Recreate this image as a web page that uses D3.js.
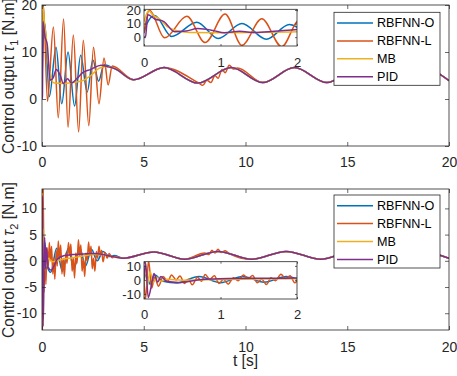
<!DOCTYPE html>
<html>
<head>
<meta charset="utf-8">
<script src="https://cdn.jsdelivr.net/npm/d3@7"></script>
<style>
  body { margin: 0; background: #fff; }
  svg { display: block; font-family: "Liberation Sans", Arial, Helvetica, sans-serif; }
  .line { fill: none; stroke-width: 1.5; stroke-linejoin: round; }
</style>
</head>
<body>
<svg id="chart" width="457" height="376"></svg>
<script>
// series names and x ticks
var names = ["RBFNN-O", "RBFNN-L", "MB", "PID"];
var xTicks = [0, 5, 10, 15, 20];
var insetXTicks = [0, 1, 2];
var tau1Ticks = [-10, 0, 10, 20];
var tau2Ticks = [-10, -5, 0, 5, 10];
var insetTau1Ticks = [0, 10, 20];
var insetTau2Ticks = [-10, 0, 10];

// tau_1: steady part shared by all controllers [t, value]
var tau1Steady = [[3.6, 6.4], [4.5, 4.1], [6.0, 6.7], [7.65, 3.4], [9.3, 6.7], [10.85, 3.5],
  [12.4, 6.7], [14.0, 3.5], [15.55, 6.7], [17.1, 3.5], [18.7, 6.7], [20, 3.9]];

// tau_1: start-up transients
var tau1RbfnnO = [[0, 3], [0.03, 9], [0.14, 16], [0.36, 0.5], [0.69, 11], [0.97, -1], [1.28, 10],
  [1.6, -1.5], [1.9, 9.3], [2.22, 1.5], [2.5, 8.3], [2.78, 3.8], [3.05, 7.3]];
var tau1RbfnnL = [[0, 3], [0.07, 20], [0.27, -0.5], [0.56, 15.3], [0.8, -4], [1.06, 17], [1.28, -6],
  [1.54, 13.6], [1.8, -7], [2.03, 12.5], [2.3, -5.7], [2.53, 11], [2.8, -1], [3.05, 8.7],
  [3.25, 3], [3.45, 7]];
var tau1Mb = [[0, 11.5], [0.06, 19.5], [0.12, 16], [0.2, 13.5], [0.3, 8], [0.45, 4.5], [0.6, 3.4],
  [1.0, 3.3], [1.5, 3.5], [2.0, 3.9], [2.4, 5.0], [2.8, 6.5], [3.15, 6.9]];
var tau1Pid = [[0, 0], [0.02, 0.5], [0.05, 16.5], [0.14, 13.4], [0.26, 11.5], [0.4, 4], [0.55, 4.5],
  [0.7, 6.3], [0.9, 5], [1.05, 3.3], [1.25, 4.3], [1.45, 3.4], [1.7, 4.3], [2.0, 5.6],
  [2.4, 6.3], [2.9, 7.2], [3.2, 6.9]];
// tau_1: late wiggle of RBFNN-L
var tau1RbfnnLWiggle = [[7.7, 3.4], [7.9, 2.9], [8.1, 4.0], [8.3, 3.5], [8.5, 5.0], [8.65, 4.4],
  [8.85, 6.3], [9.0, 5.6], [9.2, 7.2], [9.4, 6.4], [9.6, 6.6]];

// tau_2: steady part shared by all controllers
var tau2Steady = [[4.0, 0.5], [5.5, 1.7], [7.0, 0.3], [8.65, 1.8], [10.3, 0.3], [12.0, 1.8],
  [13.7, 0.3], [15.3, 1.8], [17.0, 0.3], [18.6, 1.8], [20, 0.5]];

// tau_2: start-up transients
var tau2RbfnnO = [[0, 0], [0.03, 4], [0.08, -3], [0.14, 3.5], [0.25, -1], [0.43, -2.2], [0.72, 2.4],
  [1.0, -2.0], [1.29, 2.4], [1.57, -1.6], [1.86, 2.4], [2.14, -1.0], [2.43, 2.2], [2.71, 0],
  [3.0, 1.8], [3.3, 0.8], [3.55, 1.0]];
var tau2RbfnnL = [[0, 0], [0.02, -13.5], [0.06, 13.8], [0.1, -6], [0.14, 2], [0.19, -4.5], [0.25, 2.5],
  [0.31, -1], [0.36, 3.5], [0.42, 0], [0.47, 2.8], [0.53, -2.5], [0.58, 0.5], [0.63, -3.5],
  [0.7, 2], [0.75, -1], [0.8, 3.8], [0.86, 0.5], [0.92, 3], [0.98, -2.5], [1.04, 0.5],
  [1.1, -3], [1.17, 1.5], [1.23, -0.5], [1.3, 3.5], [1.36, 1], [1.42, 3.2], [1.48, -2],
  [1.54, 0.5], [1.6, -3.3], [1.66, 1.5], [1.72, -0.5], [1.79, 4], [1.85, 1], [1.91, 3],
  [1.97, -2], [2.03, 0.3], [2.1, -3], [2.16, 1.5], [2.22, 0], [2.29, 3.6], [2.35, 1],
  [2.41, 2.8], [2.47, -1.5], [2.53, 0.5], [2.6, -2], [2.67, 1.8], [2.73, 0.5], [2.8, 2.8],
  [2.87, 1], [2.93, 2], [3.0, -0.2], [3.1, 1.6], [3.2, 0.5], [3.3, 1.4], [3.45, 0.6], [3.6, 0.8]];
var tau2Mb = [[0, 12], [0.015, 13.5], [0.04, -5], [0.08, 6], [0.12, -2], [0.17, 2], [0.22, -1],
  [0.3, 0.5], [0.5, -0.2], [1.0, 0.3], [1.5, 0.6], [2.0, 0.9], [2.5, 1.2], [3.0, 1.2], [3.5, 0.8]];
var tau2Pid = [[0, 0], [0.02, 12.4], [0.055, -12.5], [0.1, -3], [0.13, 4.5], [0.18, -1.5], [0.22, 2.5],
  [0.3, -1.2], [0.45, -1.8], [0.75, 0.3], [1.1, 1.0], [1.5, 1.2], [2.0, 1.3], [2.5, 1.4],
  [3.0, 1.2], [3.5, 0.8]];
var tau2RbfnnLWiggle = [[8.0, 1.5], [8.2, 1.2], [8.35, 2.0], [8.5, 1.5], [8.65, 2.2], [8.8, 1.6],
  [9.0, 1.9], [9.2, 1.4]];

var colors = ["#0072BD", "#D95319", "#EDB120", "#7E2F8E"];
var ink = "#262626";
var FONT = "'Liberation Sans', Arial, Helvetica, sans-serif";

// join a transient with the shared steady part (and optional extra points)
function joinSteady(transient, steady, extra) {
  var last = transient[transient.length - 1][0];
  var pts = steady.filter(function(d) { return d[0] > last + 0.2; });
  if (extra) {
    var a = extra[0][0] - 0.2, b = extra[extra.length - 1][0] + 0.2;
    pts = pts.filter(function(d) { return d[0] < a || d[0] > b; }).concat(extra);
  }
  return transient.concat(pts).sort(function(p, q) { return p[0] - q[0]; });
}

var tau1Series = [
  joinSteady(tau1RbfnnO, tau1Steady),
  joinSteady(tau1RbfnnL, tau1Steady, tau1RbfnnLWiggle),
  joinSteady(tau1Mb, tau1Steady),
  joinSteady(tau1Pid, tau1Steady)
];
var tau2Series = [
  joinSteady(tau2RbfnnO, tau2Steady),
  joinSteady(tau2RbfnnL, tau2Steady, tau2RbfnnLWiggle),
  joinSteady(tau2Mb, tau2Steady),
  joinSteady(tau2Pid, tau2Steady)
];

var svg = d3.select("#chart");
var clipCount = 0;

// draw one set of axes with lines
function drawAxes(cfg) {
  var x = d3.scaleLinear().domain(cfg.xDomain).range([cfg.left, cfg.right]);
  var y = d3.scaleLinear().domain(cfg.yDomain).range([cfg.bottom, cfg.top]);
  var id = "clip" + (clipCount++);
  var fmt = function(d) { return String(d); };

  if (cfg.background) {
    svg.append("rect")
      .attr("x", cfg.left).attr("y", cfg.top)
      .attr("width", cfg.right - cfg.left).attr("height", cfg.bottom - cfg.top)
      .attr("fill", "#fff");
  }

  svg.append("clipPath").attr("id", id).append("rect")
    .attr("x", cfg.left).attr("y", cfg.top)
    .attr("width", cfg.right - cfg.left).attr("height", cfg.bottom - cfg.top);

  var line = d3.line()
    .curve(d3.curveMonotoneX)
    .x(function(d) { return x(d[0]); })
    .y(function(d) { return y(d[1]); });

  svg.append("g")
    .attr("clip-path", "url(#" + id + ")")
    .selectAll("path")
    .data(cfg.series)
    .enter().append("path")
    .attr("class", "line")
    .attr("d", line)
    .style("stroke", function(d, i) { return colors[i]; });

  var axes = [
    { axis: d3.axisBottom(x).tickValues(cfg.xTicks).tickFormat(fmt).tickPadding(cfg.xPad), t: "translate(0," + cfg.bottom + ")" },
    { axis: d3.axisTop(x).tickValues(cfg.xTicks).tickFormat(""), t: "translate(0," + cfg.top + ")" },
    { axis: d3.axisLeft(y).tickValues(cfg.yTicks).tickFormat(fmt).tickPadding(cfg.yPad), t: "translate(" + cfg.left + ",0)" },
    { axis: d3.axisRight(y).tickValues(cfg.yTicks).tickFormat(""), t: "translate(" + cfg.right + ",0)" }
  ];
  axes.forEach(function(a) {
    var g = svg.append("g")
      .attr("transform", a.t)
      .call(a.axis.tickSize(-cfg.tickLen))
      .attr("font-size", cfg.fontSize)
      .attr("font-family", FONT)
      .style("color", ink);
    g.select(".domain").remove();
    g.selectAll("line").attr("stroke-width", 0.7);
  });

  svg.append("rect")
    .attr("x", cfg.left).attr("y", cfg.top)
    .attr("width", cfg.right - cfg.left).attr("height", cfg.bottom - cfg.top)
    .attr("fill", "none")
    .attr("stroke", ink)
    .attr("stroke-width", 0.8);
}

function drawLegend(lx, ly) {
  var w = 106, h = 73, rowH = 17.9;
  var g = svg.append("g").attr("transform", "translate(" + lx + "," + ly + ")");
  g.append("rect").attr("width", w).attr("height", h)
    .attr("fill", "#fff").attr("stroke", ink).attr("stroke-width", 0.8);
  var row = g.selectAll(".row").data(names).enter().append("g")
    .attr("transform", function(d, i) { return "translate(0," + (10.7 + i * rowH) + ")"; });
  row.append("line").attr("x1", 3).attr("x2", 39)
    .attr("stroke", function(d, i) { return colors[i]; })
    .attr("stroke-width", 1.5);
  row.append("text").attr("x", 43).attr("dy", "0.35em")
    .attr("font-size", 12.6).attr("font-family", FONT).attr("fill", "#000")
    .text(function(d) { return d; });
}

function yLabel(cx, cy, sub) {
  var t = svg.append("text")
    .attr("transform", "translate(" + cx + "," + cy + ") rotate(-90)")
    .attr("text-anchor", "middle")
    .attr("font-size", 15.6).attr("font-family", FONT).attr("fill", ink);
  t.append("tspan").text("Control output ");
  t.append("tspan").attr("font-style", "italic").text("\u03C4");
  t.append("tspan").attr("font-size", 11).attr("dy", 3.5).text(sub);
  t.append("tspan").attr("dy", -3.5).text(" [N.m]");
}

// top panel
drawAxes({ left: 42, right: 449, top: 5, bottom: 146, xDomain: [0, 20], yDomain: [-10, 20],
  xTicks: xTicks, yTicks: tau1Ticks, series: tau1Series, tickLen: 4, xPad: 11, yPad: 5, fontSize: 14 });
drawAxes({ left: 144, right: 297, top: 9.3, bottom: 46, xDomain: [0, 2], yDomain: [-6.5, 20.5],
  xTicks: insetXTicks, yTicks: insetTau1Ticks, series: tau1Series, tickLen: 2, xPad: 12, yPad: 3,
  fontSize: 13, background: true });
drawLegend(334, 12.3);
yLabel(14, 76, "1");

// bottom panel
drawAxes({ left: 42, right: 449, top: 189, bottom: 330, xDomain: [0, 20], yDomain: [-13.2, 13.7],
  xTicks: xTicks, yTicks: tau2Ticks, series: tau2Series, tickLen: 4, xPad: 12, yPad: 5, fontSize: 14 });
drawAxes({ left: 144, right: 297, top: 261.7, bottom: 299, xDomain: [0, 2], yDomain: [-13.6, 13],
  xTicks: insetXTicks, yTicks: insetTau2Ticks, series: tau2Series, tickLen: 2, xPad: 11, yPad: 3,
  fontSize: 13, background: true });
drawLegend(334, 195);
yLabel(14, 260, "2");

// x label
svg.append("text")
  .attr("x", 245.5).attr("y", 366)
  .attr("text-anchor", "middle")
  .attr("font-size", 15.6).attr("font-family", FONT).attr("fill", ink)
  .text("t [s]");
</script>
</body>
</html>
